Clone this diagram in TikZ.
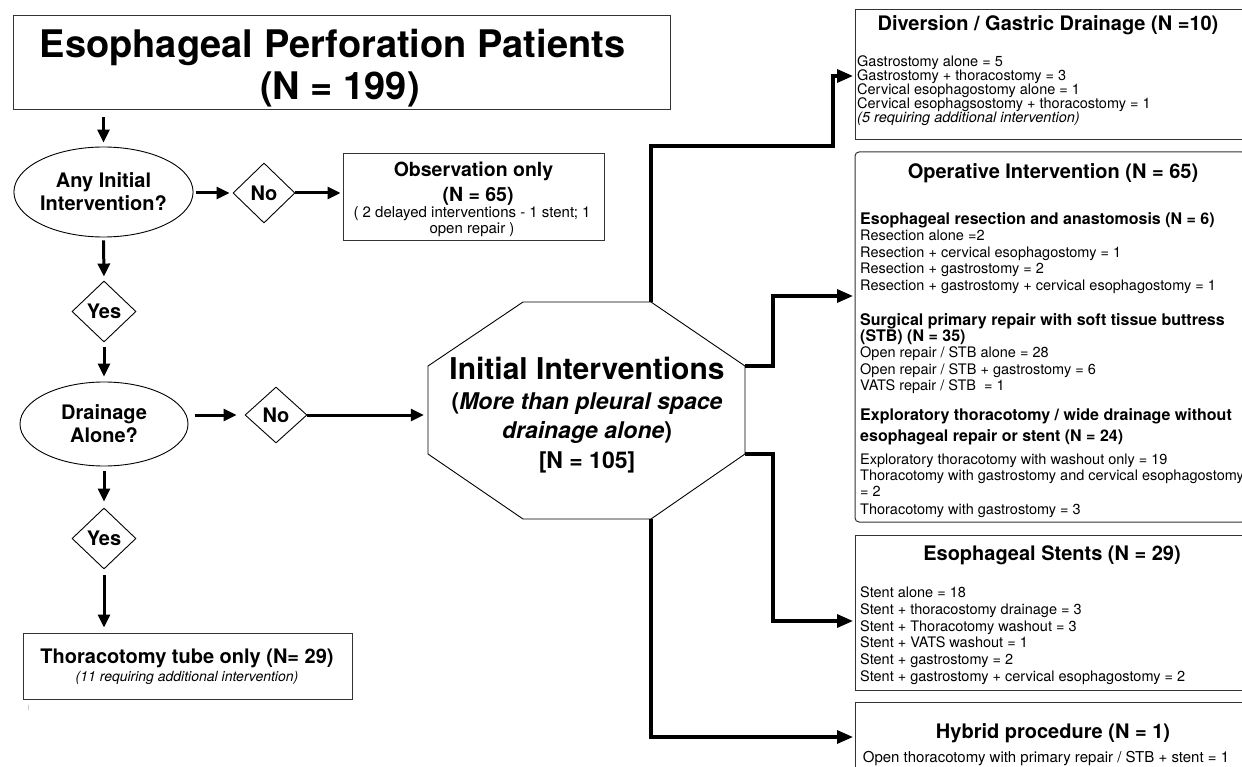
\documentclass[tikz,border=0pt]{standalone}
\usepackage{fontspec}
\setmainfont{TeX Gyre Heros}
\usetikzlibrary{shapes.geometric,arrows.meta}
\begin{document}
\begin{tikzpicture}[x=1pt,y=-1pt]
\tikzset{
  frame/.style={draw=black!80, line width=1pt, rectangle, inner sep=0pt},
  dia/.style={draw, line width=0.9pt, diamond, inner sep=0pt, font=\fontsize{20}{24}\selectfont\bfseries},
  ell/.style={draw, line width=0.9pt, ellipse, inner sep=0pt, align=center, font=\fontsize{20}{23}\selectfont\bfseries},
  larr/.style={line width=3pt, -{Triangle[length=13pt,width=12pt]}},
  rarr/.style={line width=3.3pt, -{Triangle[length=16pt,width=13pt]}},
  txt/.style={inner sep=0pt, anchor=base},
  bodytxt/.style={inner sep=0pt, anchor=base west, font=\fontsize{14.5}{16}\selectfont},
  subhead/.style={inner sep=0pt, anchor=base west, font=\fontsize{16}{18}\selectfont\bfseries},
  boxtitle/.style={inner sep=0pt, anchor=base, font=\fontsize{20}{24}\selectfont\bfseries},
}
\useasboundingbox (0,0) rectangle (1242,767);
\fill[white] (0,0) rectangle (1242,767);
\clip (0,0) rectangle (1242,767);

% ---------- left column ----------
\node[frame, minimum width=657, minimum height=94] (title) at (341.5,63) {};
\node[txt, font=\fontsize{38}{44}\selectfont\bfseries] (tt1) at (332.5,58) {Esophageal Perforation Patients};
\node[txt, font=\fontsize{38}{44}\selectfont\bfseries] (tt2) at (340,100) {(N = 199)};

\node[ell, minimum width=175, minimum height=90] (q1) at (103.5,192) {Any Initial\\Intervention?};
\node[dia, minimum width=62, minimum height=60] (no1) at (264,193) {No};
\node[frame, minimum width=261, minimum height=87] (obs) at (473.5,197.5) {};
\node[txt, font=\fontsize{19.5}{22}\selectfont\bfseries] (obs1) at (473.5,177) {Observation only};
\node[txt, font=\fontsize{19.5}{22}\selectfont\bfseries] (obs2) at (478,202) {(N = 65)};
\node[txt, font=\fontsize{15}{17}\selectfont] (obs3) at (472,217.5) {( 2 delayed interventions - 1 stent; 1};
\node[txt, font=\fontsize{15}{17}\selectfont] (obs4) at (472,233.5) {open repair )};

\node[dia, minimum width=64, minimum height=61] (yes1) at (104,311.5) {Yes};
\node[ell, minimum width=168, minimum height=84] (q2) at (104,424) {Drainage\\Alone?};
\node[dia, minimum width=62, minimum height=56] (no2) at (276,415) {No};
\node[dia, minimum width=64, minimum height=61] (yes2) at (104,538.5) {Yes};

\node[frame, minimum width=329, minimum height=66] (tt) at (187.5,666) {};
\node[txt, font=\fontsize{20}{24}\selectfont\bfseries] (tta) at (187,663) {Thoracotomy tube only (N= 29)};
\node[txt, font=\fontsize{14}{16}\selectfont\itshape] (ttb) at (187,681) {(11 requiring additional intervention)};
\node[txt, font=\fontsize{6}{7}\selectfont, text=black!45] (mark) at (28.5,709) {(};

\draw[larr, shorten <=7pt, shorten >=4pt] (title.south -| q1.north) -- (q1.north);
\draw[larr, shorten <=2pt, shorten >=3pt] (q1.east |- no1.west) -- (no1.west);
\draw[larr, shorten >=2pt] (no1.east) -- (obs.west |- no1.east);
\draw[larr, shorten <=3pt, shorten >=4pt] (q1.south) -- (yes1.north);
\draw[larr, shorten <=5pt, shorten >=5pt] (yes1.south) -- (q2.north);
\draw[larr, shorten <=7pt, shorten >=8pt] (q2.east |- no2.west) -- (no2.west);
\draw[larr, shorten <=5pt, shorten >=6pt] (q2.south) -- (yes2.north);
\draw[larr, shorten <=6pt, shorten >=5pt] (yes2.south) -- (tt.north -| yes2.south);

% ---------- octagon ----------
\node[inner sep=0pt, minimum width=317, minimum height=217] (oct) at (586.5,410.5) {};
\draw[line width=0.9pt] (523,302) -- (651,302) -- (745,366) -- (745,454) -- (651,519) -- (523,519) -- (428,454) -- (428,366) -- cycle;
\coordinate (octT) at (651,302);
\coordinate (octUR) at (745,366);
\coordinate (octLR) at (745,454);
\coordinate (octB) at (651,519);
\node[txt, font=\fontsize{30}{34}\selectfont\bfseries] (oc1) at (587,379) {Initial Interventions};
\node[txt, font=\fontsize{23}{27}\selectfont\bfseries] (oc2) at (587,409) {(\textit{More than pleural space}};
\node[txt, font=\fontsize{23}{27}\selectfont\bfseries] (oc3) at (587,438) {\textit{drainage alone})};
\node[txt, font=\fontsize{23}{27}\selectfont\bfseries] (oc4) at (587,468) {[N = 105]};

\draw[larr, shorten >=4pt] (no2.east) -- (no2.east -| oct.west);

% ---------- right boxes ----------
\node[frame, minimum width=391, minimum height=130] (div) at (1050.5,75) {};
\node[frame, rounded corners=4pt, minimum width=391, minimum height=370] (op) at (1050.5,337) {};
\node[frame, minimum width=391, minimum height=155] (st) at (1050.5,612.5) {};
\node[frame, minimum width=391, minimum height=98] (hy) at (1050.5,751) {};
\coordinate (divin) at (855,76);
\coordinate (opin) at (855,296);
\coordinate (stin) at (855,621);
\coordinate (hyin) at (855,737);

\draw[rarr, shorten >=2pt] (octT) |- (833,146) |- (divin);
\draw[rarr, shorten >=2pt] (octUR) -- ++(28,0) |- (opin);
\draw[rarr, shorten >=2pt] (octLR) -- ++(28,0) |- (stin);
\draw[rarr, shorten >=2pt] (octB) |- (hyin);

% diversion
\node[boxtitle] (divt) at (1048,31) {Diversion / Gastric Drainage (N =10)};
\node[bodytxt] (d1) at (857,67) {Gastrostomy alone = 5};
\node[bodytxt] (d2) at (857,81) {Gastrostomy + thoracostomy = 3};
\node[bodytxt] (d3) at (857,95) {Cervical esophagostomy alone = 1};
\node[bodytxt] (d4) at (857,109) {Cervical esophagsostomy + thoracostomy = 1};
\node[bodytxt, font=\fontsize{14.5}{16}\selectfont\itshape] (d5) at (857,123) {(5 requiring additional intervention)};

% operative
\node[boxtitle] (opt) at (1053,179) {Operative Intervention (N = 65)};
\node[subhead] (o1) at (860,224.5) {Esophageal resection and anastomosis (N = 6)};
\node[bodytxt] (o2) at (860,241) {Resection alone =2};
\node[bodytxt] (o3) at (860,257.5) {Resection + cervical esophagostomy = 1};
\node[bodytxt] (o4) at (860,274) {Resection + gastrostomy = 2};
\node[bodytxt] (o5) at (860,290.5) {Resection + gastrostomy + cervical esophagostomy = 1};
\node[subhead] (o6) at (860,325) {Surgical primary repair with soft tissue buttress};
\node[subhead] (o7) at (860,341.5) {(STB) (N = 35)};
\node[bodytxt] (o8) at (860,357.5) {Open repair / STB alone = 28};
\node[bodytxt] (o9) at (860,374) {Open repair / STB + gastrostomy = 6};
\node[bodytxt] (o10) at (860,390) {VATS repair / STB\ \ = 1};
\node[subhead] (o11) at (860,420.5) {Exploratory thoracotomy / wide drainage without};
\node[subhead] (o12) at (860,441.5) {esophageal repair or stent (N = 24)};
\node[bodytxt] (o13) at (860,464) {Exploratory thoracotomy with washout only = 19};
\node[bodytxt] (o14) at (860,480.5) {Thoracotomy with gastrostomy and cervical esophagostomy};
\node[bodytxt] (o15) at (860,496.5) {= 2};
\node[bodytxt] (o16) at (860,514) {Thoracotomy with gastrostomy = 3};

% stents
\node[boxtitle] (stt) at (1052,560.5) {Esophageal Stents (N = 29)};
\node[bodytxt] (s1) at (860,597.5) {Stent alone = 18};
\node[bodytxt] (s2) at (860,614.5) {Stent + thoracostomy drainage = 3};
\node[bodytxt] (s3) at (860,631) {Stent + Thoracotomy washout = 3};
\node[bodytxt] (s4) at (860,647.5) {Stent + VATS washout = 1};
\node[bodytxt] (s5) at (860,664.5) {Stent + gastrostomy = 2};
\node[bodytxt] (s6) at (860,681) {Stent + gastrostomy + cervical esophagostomy = 2};

% hybrid
\node[boxtitle] (hyt) at (1053,738) {Hybrid procedure (N = 1)};
\node[txt, font=\fontsize{15}{17}\selectfont] (h1) at (1046,762) {Open thoracotomy with primary repair / STB + stent = 1};
\end{tikzpicture}
\end{document}
